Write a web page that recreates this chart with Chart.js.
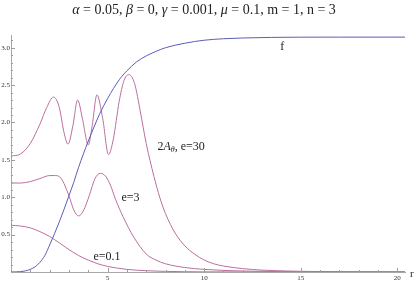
<!DOCTYPE html>
<html>
<head>
<meta charset="utf-8">
<script src="https://cdn.jsdelivr.net/npm/chart.js"></script>
<style>
  html, body { margin: 0; padding: 0; background: #fff; }
  #wrap { width: 417px; height: 281px; }
</style>
</head>
<body>
<div id="wrap"><canvas id="plot"></canvas></div>
<script>
// f(r)
const rF = [0, 0.5, 0.75, 1, 1.25, 1.5, 1.75, 2, 2.25, 2.5, 2.75, 3, 3.25, 3.5, 3.75, 4, 4.3, 4.6, 5, 5.6, 6, 6.5, 7, 7.5, 8, 9, 10, 11, 12, 13.5, 15, 17, 20.4];
const fVals = [0, 0.005, 0.015, 0.035, 0.07, 0.13, 0.22, 0.36, 0.51, 0.67, 0.84, 1.02, 1.2, 1.4, 1.58, 1.75, 1.94, 2.12, 2.32, 2.57, 2.69, 2.81, 2.89, 2.95, 3.0, 3.06, 3.1, 3.12, 3.13, 3.138, 3.141, 3.1415, 3.1416];

// 2 A_theta, e = 30
const rA30 = [0, 0.5, 1, 1.5, 1.85, 2.2, 2.5, 2.75, 2.95, 3.2, 3.45, 3.7, 4.0, 4.2, 4.45, 4.75, 5.05, 5.3, 5.6, 5.85, 6.1, 6.4, 6.7, 7.0, 7.4, 7.7, 8.0, 8.5, 9, 9.5, 10, 10.5, 11, 12, 13, 14, 16, 20.4];
const a30 = [1.55, 1.58, 1.72, 1.98, 2.2, 2.34, 2.2, 1.86, 1.71, 1.95, 2.3, 2.05, 1.70, 1.95, 2.37, 2.05, 1.57, 1.78, 2.28, 2.56, 2.64, 2.52, 2.14, 1.72, 1.28, 1.0, 0.78, 0.52, 0.35, 0.24, 0.16, 0.11, 0.08, 0.045, 0.025, 0.015, 0.006, 0.001];

// e = 3
const rE3 = [0, 0.5, 1, 1.5, 2, 2.3, 2.6, 3.0, 3.25, 3.5, 3.75, 4.05, 4.35, 4.63, 4.9, 5.15, 5.4, 5.8, 6.35, 7.0, 7.5, 8, 9, 10, 12, 15, 20.4];
const e3 = [1.19, 1.19, 1.21, 1.25, 1.29, 1.29, 1.25, 1.02, 0.83, 0.75, 0.82, 1.02, 1.25, 1.32, 1.28, 1.16, 0.98, 0.74, 0.47, 0.24, 0.16, 0.11, 0.06, 0.035, 0.013, 0.004, 0.001];

// e = 0.1
const rE01 = [0, 0.5, 1, 1.5, 2, 2.5, 3, 3.5, 4, 4.5, 5, 6, 7, 8, 10, 13, 20.4];
const e01 = [0.625, 0.615, 0.59, 0.54, 0.475, 0.39, 0.30, 0.22, 0.16, 0.11, 0.075, 0.035, 0.017, 0.008, 0.002, 0.0005, 0];

const xTickLabels = [5, 10, 15, 20];
const yTickLabels = [0.5, 1.0, 1.5, 2.0, 2.5, 3.0];

const titleParts = [
  ['α', true], [' = 0.05, ', false], ['β', true], [' = 0, ', false],
  ['γ', true], [' = 0.001, ', false], ['μ', true], [' = 0.1, m = 1, n = 3', false]
];

const blue = '#5c5cb8';
const pink = '#bb6f9c';
const serif = '"Liberation Serif", "Times New Roman", serif';

function pts(xs, ys) {
  return xs.map((x, i) => ({ x: x, y: ys[i] }));
}

function line(data, color) {
  return {
    data: data,
    borderColor: color,
    borderWidth: 1,
    pointRadius: 0,
    fill: false,
    cubicInterpolationMode: 'monotone'
  };
}

// mathematica style: ticks drawn inward, minor every 1 / 0.1
const innerTicks = {
  id: 'innerTicks',
  afterDraw(chart) {
    const { ctx, chartArea, scales: { x, y } } = chart;
    ctx.save();
    ctx.strokeStyle = '#9c9c9c';
    ctx.lineWidth = 1;
    ctx.beginPath();
    const y0 = chartArea.bottom;
    for (let v = 1; v <= x.max; v++) {
      const px = Math.round(x.getPixelForValue(v)) + 0.5;
      const len = v % 5 === 0 ? 4 : 2;
      ctx.moveTo(px, y0);
      ctx.lineTo(px, y0 - len);
    }
    const x0 = chartArea.left;
    for (let k = 1; k / 10 <= y.max; k++) {
      const py = Math.round(y.getPixelForValue(k / 10)) + 0.5;
      const len = k % 5 === 0 ? 4 : 2;
      ctx.moveTo(x0, py);
      ctx.lineTo(x0 + len, py);
    }
    ctx.stroke();
    ctx.restore();
  }
};

const textBits = {
  id: 'textBits',
  afterDraw(chart) {
    const { ctx, chartArea, scales: { x, y } } = chart;
    ctx.save();
    ctx.fillStyle = '#222';
    ctx.textBaseline = 'alphabetic';

    // title
    ctx.font = '14px ' + serif;
    let w = 0;
    titleParts.forEach(([t, it]) => {
      ctx.font = (it ? 'italic ' : '') + '14px ' + serif;
      w += ctx.measureText(t).width;
    });
    let tx = 204 - w / 2;
    titleParts.forEach(([t, it]) => {
      ctx.font = (it ? 'italic ' : '') + '14px ' + serif;
      ctx.fillText(t, tx, 14);
      tx += ctx.measureText(t).width;
    });

    // curve labels
    ctx.font = '12px ' + serif;
    ctx.fillText('f', x.getPixelForValue(13.94), y.getPixelForValue(2.97));
    ctx.fillText('e=3', x.getPixelForValue(5.72), y.getPixelForValue(0.95));
    ctx.fillText('e=0.1', x.getPixelForValue(4.27), y.getPixelForValue(0.157));

    let lx = x.getPixelForValue(7.58);
    const ly = y.getPixelForValue(1.63);
    ctx.fillText('2', lx, ly);
    lx += ctx.measureText('2').width;
    ctx.font = 'italic 12px ' + serif;
    ctx.fillText('A', lx, ly);
    lx += ctx.measureText('A').width;
    ctx.font = 'italic 8px ' + serif;
    ctx.fillText('θ', lx, ly + 2);
    lx += ctx.measureText('θ').width;
    ctx.font = '12px ' + serif;
    ctx.fillText(', e=30', lx, ly);

    // axis label
    ctx.font = '11px ' + serif;
    ctx.fillText('r', chartArea.right + 5, chartArea.bottom + 5);
    ctx.restore();
  }
};

new Chart(document.getElementById('plot'), {
  type: 'line',
  data: {
    datasets: [
      line(pts(rF, fVals), blue),
      line(pts(rA30, a30), pink),
      line(pts(rE3, e3), pink),
      line(pts(rE01, e01), pink)
    ]
  },
  options: {
    responsive: true,
    maintainAspectRatio: false,
    animation: false,
    layout: { padding: { left: 0, right: 12, top: 35, bottom: 0 } },
    plugins: {
      legend: { display: false },
      tooltip: { enabled: false }
    },
    scales: {
      x: {
        type: 'linear',
        min: 0,
        max: 20.4,
        afterFit(scale) { scale.height = 9; },
        grid: { display: false, drawTicks: false },
        border: { display: true, color: '#a8a8a8', width: 1 },
        ticks: {
          stepSize: 5,
          includeBounds: false,
          autoSkip: false,
          maxRotation: 0,
          padding: 2,
          color: '#333',
          font: { family: serif, size: 7 },
          callback: (v) => xTickLabels.includes(v) ? String(v) : ''
        }
      },
      y: {
        type: 'linear',
        min: 0,
        max: 3.17,
        afterFit(scale) { scale.width = 11; },
        grid: { display: false, drawTicks: false },
        border: { display: true, color: '#a8a8a8', width: 1 },
        ticks: {
          stepSize: 0.5,
          includeBounds: false,
          autoSkip: false,
          padding: 1,
          color: '#333',
          font: { family: serif, size: 7 },
          callback: (v) => yTickLabels.some(t => Math.abs(t - v) < 1e-9) ? v.toFixed(1) : ''
        }
      }
    }
  },
  plugins: [innerTicks, textBits]
});
</script>
</body>
</html>
